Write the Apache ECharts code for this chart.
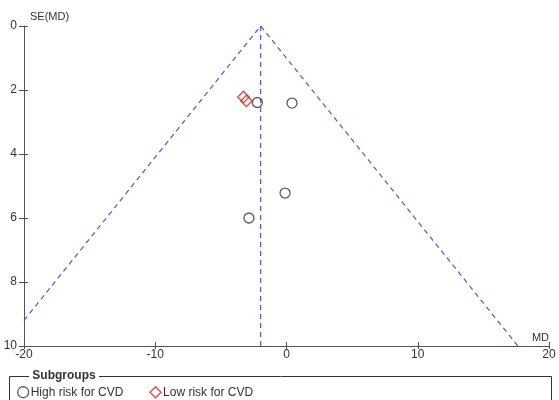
<!DOCTYPE html>
<html>
<head>
<meta charset="utf-8">
<script src="https://cdn.jsdelivr.net/npm/echarts@6/dist/echarts.min.js"></script>
<style>
html,body{margin:0;padding:0;background:#fff;}
#c{width:559px;height:400px;}
</style>
</head>
<body>
<div id="c"></div>
<script>
// Data
var highRiskMD = [-2.22, 0.42, -0.11, -2.86];
var highRiskSE = [2.39, 2.41, 5.22, 6.0];
var lowRiskMD = [-3.28, -3.05];
var lowRiskSE = [2.22, 2.34];
var pooledMD = -1.97;
var funnelMD = [-20, -1.97, 17.63];
var funnelSE = [9.2, 0, 10];
var xTicks = [-20, -10, 0, 10, 20];
var yTicks = [0, 2, 4, 6, 8, 10];
var seriesNames = ['High risk for CVD', 'Low risk for CVD'];

function pairs(xs, ys) { return xs.map(function (x, i) { return [x, ys[i]]; }); }

var FONT = 'Liberation Sans, Arial, sans-serif';
var AX = '#555';
var xMin = xTicks[0], xMax = xTicks[xTicks.length - 1];
var yMin = yTicks[0], yMax = yTicks[yTicks.length - 1];

var chart = echarts.init(document.getElementById('c'), null, {renderer: 'canvas'});
chart.setOption({
  animation: false,
  backgroundColor: '#fff',
  textStyle: {fontFamily: FONT},
  grid: {left: 24, right: 10, top: 26, bottom: 54, containLabel: false},
  xAxis: [{
    type: 'value', min: xMin, max: xMax, interval: 10,
    position: 'bottom',
    name: 'MD', nameLocation: 'end', nameGap: 0,
    nameTextStyle: {align: 'right', verticalAlign: 'bottom', padding: [0, 0, 3, 0], color: '#333', fontSize: 11, fontFamily: FONT},
    axisLine: {onZero: false, lineStyle: {color: AX, width: 1}},
    axisTick: {show: true, length: 3, lineStyle: {color: AX}},
    axisLabel: {color: '#333', fontSize: 12, margin: 3, fontFamily: FONT},
    splitLine: {show: false}
  }, {
    type: 'value', min: xMin, max: xMax, interval: 10, position: 'bottom',
    axisLine: {show: false, onZero: false},
    axisTick: {show: true, inside: true, length: 4, lineStyle: {color: AX}},
    axisLabel: {show: false}, splitLine: {show: false}
  }],
  yAxis: [{
    type: 'value', min: yMin, max: yMax, interval: 2, inverse: true,
    name: 'SE(MD)', nameLocation: 'start', nameGap: 4,
    nameTextStyle: {align: 'left', verticalAlign: 'bottom', padding: [0, 0, 0, 6], color: '#333', fontSize: 11, fontFamily: FONT},
    axisLine: {onZero: false, lineStyle: {color: AX, width: 1}},
    axisTick: {show: true, length: 5, lineStyle: {color: AX}},
    axisLabel: {color: '#333', fontSize: 12, margin: 7, fontFamily: FONT},
    splitLine: {show: false}
  }, {
    type: 'value', min: yMin, max: yMax, interval: 2, inverse: true, position: 'left',
    axisLine: {show: false, onZero: false},
    axisTick: {show: true, inside: true, length: 4, lineStyle: {color: AX}},
    axisLabel: {show: false}, splitLine: {show: false}
  }],
  legend: {
    left: 12, top: 381, itemGap: 26, itemWidth: 11, itemHeight: 11,
    textStyle: {color: '#333', fontSize: 12, fontFamily: FONT, padding: [0, 0, 0, -3]},
    data: [
      {name: seriesNames[0], icon: 'circle', itemStyle: {color: '#fff', borderColor: '#333', borderWidth: 1.3}},
      {name: seriesNames[1], icon: 'diamond', itemStyle: {color: '#fff', borderColor: '#d42a2a', borderWidth: 1.5}}
    ]
  },
  graphic: [
    {type: 'rect', shape: {x: 9.5, y: 376.5, width: 542, height: 40}, style: {fill: 'none', stroke: '#333', lineWidth: 1}, z: 0},
    {type: 'text', left: 29, top: 370, style: {text: ' Subgroups ', fill: '#333', font: 'bold 12px ' + FONT, backgroundColor: '#fff'}, z: 1}
  ],
  series: [
    {
      type: 'line', name: 'funnel', data: pairs(funnelMD, funnelSE), showSymbol: false, symbol: 'none',
      lineStyle: {color: '#5353e0', width: 1.2, type: [5, 4]}, silent: true, z: 1
    },
    {
      type: 'line', name: 'pooled', data: [[pooledMD, yMin], [pooledMD, yMax]], symbol: 'none',
      lineStyle: {color: '#5353e0', width: 1.2, type: [5, 4]}, silent: true, z: 1
    },
    {
      type: 'scatter', name: seriesNames[0], data: pairs(highRiskMD, highRiskSE),
      symbol: 'circle', symbolSize: 10,
      itemStyle: {color: 'rgba(255,255,255,0)', borderColor: '#333', borderWidth: 1.3}, z: 3
    },
    {
      type: 'scatter', name: seriesNames[1], data: pairs(lowRiskMD, lowRiskSE),
      symbol: 'rect', symbolSize: 8, symbolRotate: 45,
      itemStyle: {color: 'rgba(255,255,255,0)', borderColor: '#d42a2a', borderWidth: 1.5}, z: 3
    }
  ]
});
</script>
</body>
</html>
